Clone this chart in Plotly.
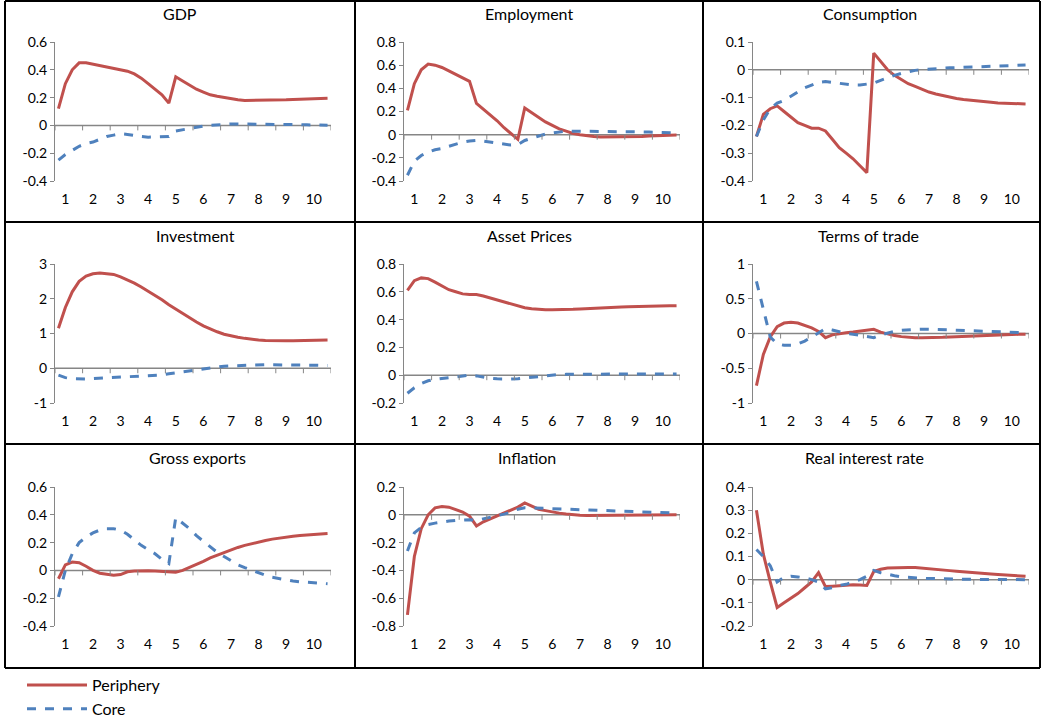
import plotly.graph_objects as go
from plotly.subplots import make_subplots

# quarters: 0.75, 1.0, ... 10.5
x = [0.75 + 0.25 * i for i in range(40)]

titles = ["GDP", "Employment", "Consumption", "Investment", "Asset Prices",
          "Terms of trade", "Gross exports", "Inflation", "Real interest rate"]

gdp_p = [0.12, 0.30, 0.40, 0.45, 0.45, 0.44, 0.43, 0.42, 0.41, 0.40, 0.39, 0.37, 0.34, 0.30, 0.26, 0.22, 0.16,
         0.35, 0.32, 0.29, 0.26, 0.24, 0.22, 0.21, 0.20, 0.19, 0.185, 0.18, 0.18, 0.18, 0.18, 0.18, 0.182,
         0.184, 0.186, 0.188, 0.19, 0.192, 0.194, 0.196]
gdp_c = [-0.25, -0.21, -0.18, -0.15, -0.13, -0.12, -0.10, -0.08, -0.07, -0.06, -0.065, -0.075, -0.08, -0.085,
         -0.085, -0.085, -0.08, -0.04, -0.03, -0.02, -0.01, -0.005, 0.0, 0.005, 0.008, 0.01, 0.01, 0.01, 0.01,
         0.01, 0.01, 0.01, 0.008, 0.007, 0.006, 0.005, 0.004, 0.003, 0.002, 0.001]

emp_p = [0.21, 0.44, 0.56, 0.61, 0.60, 0.58, 0.55, 0.52, 0.49, 0.46, 0.27, 0.22, 0.17, 0.12, 0.06, 0.01, -0.04,
         0.23, 0.19, 0.15, 0.11, 0.08, 0.05, 0.03, 0.01, 0.0, -0.01, -0.015, -0.02, -0.02, -0.02, -0.02, -0.02,
         -0.018, -0.015, -0.012, -0.01, -0.007, -0.004, -0.002]
emp_c = [-0.35, -0.23, -0.18, -0.15, -0.13, -0.12, -0.10, -0.08, -0.065, -0.055, -0.05, -0.055, -0.065, -0.075,
         -0.085, -0.09, -0.085, -0.05, -0.03, -0.01, 0.005, 0.015, 0.025, 0.03, 0.03, 0.03, 0.03, 0.03, 0.03,
         0.03, 0.03, 0.03, 0.028, 0.026, 0.024, 0.022, 0.02, 0.018, 0.016, 0.015]

con_p = [-0.24, -0.16, -0.14, -0.13, -0.15, -0.17, -0.19, -0.20, -0.21, -0.21, -0.22, -0.25, -0.28, -0.30,
         -0.32, -0.345, -0.37, 0.06, 0.03, 0.0, -0.02, -0.035, -0.05, -0.06, -0.07, -0.08, -0.087, -0.093,
         -0.098, -0.103, -0.107, -0.11, -0.113, -0.115, -0.117, -0.119, -0.12, -0.121, -0.122, -0.123]
con_c = [-0.24, -0.18, -0.14, -0.12, -0.11, -0.095, -0.08, -0.065, -0.055, -0.045, -0.042, -0.045, -0.05,
         -0.053, -0.055, -0.055, -0.052, -0.048, -0.038, -0.028, -0.02, -0.013, -0.007, -0.002, 0.001, 0.003,
         0.005, 0.006, 0.007, 0.008, 0.009, 0.01, 0.011, 0.012, 0.013, 0.014, 0.015, 0.015, 0.016, 0.017]

inv_p = [1.15, 1.75, 2.2, 2.5, 2.65, 2.72, 2.74, 2.73, 2.70, 2.63, 2.55, 2.45, 2.34, 2.22, 2.10, 1.97, 1.83,
         1.70, 1.57, 1.44, 1.33, 1.22, 1.13, 1.05, 0.98, 0.93, 0.89, 0.86, 0.83, 0.81, 0.80, 0.79, 0.79, 0.79,
         0.79, 0.79, 0.80, 0.80, 0.81, 0.81]
inv_c = [-0.2, -0.27, -0.3, -0.31, -0.31, -0.30, -0.29, -0.27, -0.25, -0.24, -0.23, -0.22, -0.22, -0.22, -0.21,
         -0.19, -0.16, -0.13, -0.10, -0.07, -0.04, -0.01, 0.02, 0.04, 0.06, 0.07, 0.08, 0.09, 0.095, 0.1, 0.1,
         0.1, 0.1, 0.1, 0.1, 0.095, 0.09, 0.09, 0.085, 0.08]

ast_p = [0.61, 0.68, 0.70, 0.695, 0.67, 0.64, 0.615, 0.60, 0.585, 0.58, 0.58, 0.57, 0.555, 0.54, 0.525, 0.515,
         0.50, 0.485, 0.478, 0.473, 0.47, 0.47, 0.47, 0.472, 0.474, 0.477, 0.48, 0.482, 0.484, 0.486, 0.488,
         0.49, 0.492, 0.494, 0.495, 0.496, 0.497, 0.498, 0.499, 0.5]
ast_c = [-0.13, -0.09, -0.06, -0.04, -0.03, -0.025, -0.02, -0.01, -0.005, 0.0, -0.005, -0.015, -0.022, -0.026,
         -0.028, -0.028, -0.025, -0.02, -0.012, -0.006, 0.0, 0.003, 0.005, 0.006, 0.007, 0.008, 0.008, 0.008,
         0.008, 0.008, 0.008, 0.008, 0.008, 0.008, 0.008, 0.008, 0.008, 0.008, 0.008, 0.008]

tot_p = [-0.75, -0.3, -0.05, 0.1, 0.15, 0.16, 0.15, 0.12, 0.08, 0.03, -0.06, -0.02, 0.0, 0.01, 0.02, 0.03, 0.04,
         0.06, 0.02, -0.01, -0.03, -0.045, -0.055, -0.06, -0.062, -0.062, -0.06, -0.055, -0.05, -0.045, -0.04,
         -0.035, -0.03, -0.027, -0.024, -0.02, -0.017, -0.014, -0.012, -0.01]
tot_c = [0.75, 0.35, -0.05, -0.15, -0.17, -0.17, -0.15, -0.11, -0.05, 0.02, 0.07, 0.05, 0.02, 0.0, -0.01, -0.025,
         -0.04, -0.06, -0.02, 0.01, 0.03, 0.045, 0.055, 0.06, 0.062, 0.062, 0.06, 0.056, 0.052, 0.048, 0.044,
         0.04, 0.036, 0.032, 0.028, 0.024, 0.02, 0.017, 0.013, 0.01]

gex_p = [-0.06, 0.04, 0.06, 0.055, 0.03, 0.0, -0.02, -0.03, -0.035, -0.03, -0.01, -0.005, -0.003, -0.003,
         -0.005, -0.008, -0.01, -0.013, 0.0, 0.02, 0.04, 0.065, 0.09, 0.11, 0.13, 0.15, 0.165, 0.18, 0.193,
         0.205, 0.215, 0.225, 0.233, 0.24, 0.246, 0.251, 0.255, 0.259, 0.262, 0.265]
gex_c = [-0.19, 0.0, 0.12, 0.20, 0.24, 0.27, 0.29, 0.30, 0.30, 0.29, 0.26, 0.22, 0.18, 0.15, 0.12, 0.08, 0.05,
         0.38, 0.34, 0.30, 0.25, 0.21, 0.17, 0.13, 0.10, 0.07, 0.04, 0.02, 0.0, -0.02, -0.035, -0.05, -0.06,
         -0.07, -0.076, -0.082, -0.086, -0.09, -0.093, -0.096]

inf_p = [-0.72, -0.30, -0.10, 0.0, 0.05, 0.06, 0.055, 0.04, 0.02, -0.01, -0.08, -0.05, -0.03, -0.01, 0.01, 0.03,
         0.055, 0.085, 0.06, 0.04, 0.03, 0.02, 0.012, 0.006, 0.0, -0.003, -0.005, -0.005, -0.005, -0.005,
         -0.005, -0.005, -0.004, -0.004, -0.003, -0.003, -0.002, -0.001, 0.0, 0.0]
inf_c = [-0.26, -0.13, -0.09, -0.07, -0.06, -0.05, -0.045, -0.04, -0.035, -0.035, -0.04, -0.03, -0.02, -0.01,
         0.005, 0.02, 0.04, 0.05, 0.05, 0.048, 0.046, 0.044, 0.042, 0.04, 0.038, 0.036, 0.034, 0.032, 0.03,
         0.028, 0.026, 0.024, 0.022, 0.02, 0.019, 0.017, 0.016, 0.014, 0.013, 0.012]

rir_p = [0.30, 0.11, -0.01, -0.12, -0.10, -0.08, -0.06, -0.035, -0.01, 0.03, -0.03, -0.028, -0.025, -0.023,
         -0.022, -0.023, -0.025, 0.035, 0.045, 0.05, 0.052, 0.053, 0.053, 0.052, 0.05, 0.048, 0.045, 0.042,
         0.039, 0.036, 0.033, 0.03, 0.028, 0.026, 0.024, 0.022, 0.02, 0.018, 0.016, 0.015]
rir_c = [0.13, 0.10, 0.06, -0.01, 0.01, 0.015, 0.012, 0.008, 0.0, -0.01, -0.04, -0.035, -0.025, -0.02, -0.01,
         0.0, 0.015, 0.04, 0.03, 0.022, 0.017, 0.012, 0.009, 0.007, 0.006, 0.005, 0.004, 0.003, 0.003, 0.002,
         0.002, 0.002, 0.001, 0.001, 0.001, 0.001, 0.0, 0.0, 0.0, 0.0]

periphery = [gdp_p, emp_p, con_p, inv_p, ast_p, tot_p, gex_p, inf_p, rir_p]
core = [gdp_c, emp_c, con_c, inv_c, ast_c, tot_c, gex_c, inf_c, rir_c]

# y tick labels per panel (Excel style, hyphen minus)
y_ticks = [
    ["-0.4", "-0.2", "0", "0.2", "0.4", "0.6"],
    ["-0.4", "-0.2", "0", "0.2", "0.4", "0.6", "0.8"],
    ["-0.4", "-0.3", "-0.2", "-0.1", "0", "0.1"],
    ["-1", "0", "1", "2", "3"],
    ["-0.2", "0", "0.2", "0.4", "0.6", "0.8"],
    ["-1", "-0.5", "0", "0.5", "1"],
    ["-0.4", "-0.2", "0", "0.2", "0.4", "0.6"],
    ["-0.8", "-0.6", "-0.4", "-0.2", "0", "0.2"],
    ["-0.2", "-0.1", "0", "0.1", "0.2", "0.3", "0.4"],
]

W, H = 1042, 719
RED, BLUE = "#C0504D", "#4F81BD"
FONT = "Lato, 'Open Sans', sans-serif"

col_px = [(55, 331), (404, 680), (753, 1029)]
row_px = [(42, 181), (264, 403), (487, 626)]
cell_x = [5, 355, 703, 1040]
cell_y = [1, 222, 444, 668]
title_x = [180, 529, 870, 195, 529, 868, 197, 527, 864]

fig = make_subplots(rows=3, cols=3)

for k in range(9):
    r, c = divmod(k, 3)
    fig.add_trace(go.Scatter(x=x, y=periphery[k], mode="lines", name="Periphery",
                             line=dict(color=RED, width=3), showlegend=(k == 0)), row=r + 1, col=c + 1)
    fig.add_trace(go.Scatter(x=x, y=core[k], mode="lines", name="Core",
                             line=dict(color=BLUE, width=3, dash="dash"), showlegend=(k == 0)), row=r + 1, col=c + 1)
    sfx = "" if k == 0 else str(k + 1)
    x0, x1 = col_px[c]
    y0, y1 = row_px[r]
    tv = [float(t) for t in y_ticks[k]]
    fig.layout["xaxis" + sfx].update(
        domain=[x0 / W, x1 / W], range=[0.625, 10.625], tickvals=list(range(1, 11)),
        showgrid=False, zeroline=False, showline=False, ticks="", ticklabelstandoff=8, automargin=False,
        tickfont=dict(size=14, color="black", family=FONT))
    fig.layout["yaxis" + sfx].update(
        domain=[1 - y1 / H, 1 - y0 / H], range=[tv[0], tv[-1]], tickvals=tv, ticktext=y_ticks[k],
        showgrid=False, zeroline=False, showline=True, linecolor="#868686", linewidth=1, automargin=False,
        ticks="outside", ticklen=4, tickcolor="#868686",
        tickfont=dict(size=14, color="black", family=FONT))
    xr, yr = "x" + sfx, "y" + sfx
    # category axis line at zero with tick marks
    fig.add_shape(type="line", xref=xr, yref=yr, x0=0.625, x1=10.625, y0=0, y1=0,
                  line=dict(color="#868686", width=1.5), layer="below")
    for t in range(11):
        fig.add_shape(type="line", xref=xr, yref=yr, ysizemode="pixel", yanchor=0,
                      x0=0.625 + t, x1=0.625 + t, y0=0, y1=-5, line=dict(color="#868686", width=1))
    fig.add_annotation(text=titles[k], xref="paper", yref="paper",
                       x=title_x[k] / W, y=1 - (cell_y[r] + 13) / H,
                       xanchor="center", yanchor="middle", showarrow=False,
                       font=dict(size=16, color="black", family=FONT))

# table borders
for xv in cell_x:
    fig.add_shape(type="line", xref="paper", yref="paper", x0=xv / W, x1=xv / W,
                  y0=1 - cell_y[0] / H, y1=1 - cell_y[-1] / H, line=dict(color="black", width=2))
for yv in cell_y:
    fig.add_shape(type="line", xref="paper", yref="paper", x0=cell_x[0] / W, x1=cell_x[-1] / W,
                  y0=1 - yv / H, y1=1 - yv / H, line=dict(color="black", width=2))

fig.update_layout(
    width=W, height=H, margin=dict(l=0, r=0, t=0, b=0, autoexpand=False),
    paper_bgcolor="white", plot_bgcolor="white",
    legend=dict(x=22 / W, y=1 - 668 / H, xanchor="left", yanchor="top", tracegroupgap=0,
                bgcolor="rgba(0,0,0,0)", font=dict(size=16, color="black", family=FONT),
                itemwidth=60),
)

fig.write_html("out.html", config={"displayModeBar": False},
               post_script="document.body.style.margin='0';")
